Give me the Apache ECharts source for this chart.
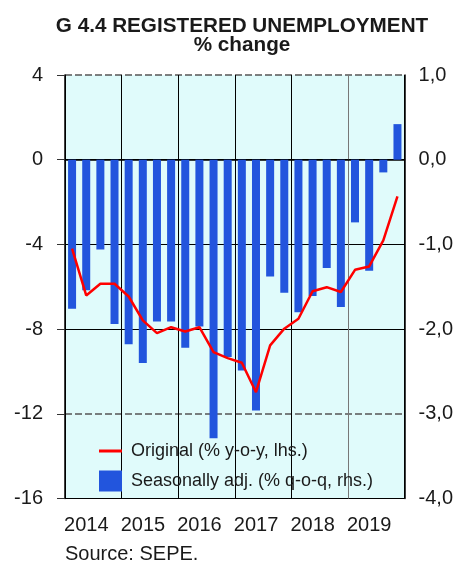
<!DOCTYPE html>
<html>
<head>
<meta charset="utf-8">
<script src="https://cdn.jsdelivr.net/npm/echarts@6/dist/echarts.min.js"></script>
<style>
  html, body { margin: 0; padding: 0; background: #fff; }
  #main { width: 456px; height: 562px; }
</style>
</head>
<body>
<div id="main"></div>
<script>
// years on the axis, one bar / point per quarter
var years = ['2014', '2015', '2016', '2017', '2018', '2019'];
var quarters = [];
years.forEach(function (y) {
  ['Q1', 'Q2', 'Q3', 'Q4'].forEach(function (q) { quarters.push(y + q); });
});

// original series, % y-o-y (left axis)
var original = [-4.20, -6.41, -5.86, -5.86, -6.46, -7.59, -8.19, -7.91,
                -8.11, -7.91, -9.09, -9.37, -9.59, -10.98, -8.77, -7.98,
                -7.51, -6.21, -6.02, -6.25, -5.20, -5.04, -3.81, -1.73];

// seasonally adjusted, % q-o-q (right axis)
var seasAdj = [-1.76, -1.54, -1.06, -1.94, -2.18, -2.40, -1.91, -1.91,
               -2.22, -1.97, -3.29, -2.33, -2.49, -2.96, -1.38, -1.57,
               -1.80, -1.61, -1.28, -1.74, -0.74, -1.31, -0.15, 0.42];

var FONT = "'Liberation Sans', Arial, sans-serif";
var TXT = '#1a1a1a';

var chart = echarts.init(document.getElementById('main'));
chart.setOption({
  animation: false,
  textStyle: { fontFamily: FONT },
  graphic: [
    {
      type: 'text', x: 242, y: 17,
      style: {
        text: 'G 4.4 REGISTERED UNEMPLOYMENT\n% change',
        font: 'bold 20.7px ' + FONT, fill: TXT,
        textAlign: 'center', lineHeight: 19
      }
    },
    {
      type: 'text', x: 65, y: 544,
      style: { text: 'Source: SEPE.', font: '20px ' + FONT, fill: TXT }
    }
  ],
  grid: {
    left: 65, right: 50, top: 75, bottom: 63.5,
    show: true, backgroundColor: '#e0fbfb', borderWidth: 0
  },
  legend: {
    orient: 'vertical',
    left: 99, top: 442, padding: 0,
    itemWidth: 23, itemHeight: 21, itemGap: 10.5,
    textStyle: { fontSize: 18, color: TXT, fontFamily: FONT, padding: [0, 0, 0, 4] },
    data: [
      { name: 'Original (% y-o-y, lhs.)', icon: 'path://M0,0 L23,0 L23,3 L0,3 Z' },
      { name: 'Seasonally adj. (% q-o-q, rhs.)', icon: 'rect' }
    ]
  },
  xAxis: [
    {
      type: 'category', data: quarters,
      axisLine: { show: true, lineStyle: { color: '#000', width: 1.5 } },
      axisTick: { show: false }, axisLabel: { show: false },
      splitLine: { show: false }
    },
    {
      type: 'category', data: years, position: 'bottom',
      axisLine: { show: false }, axisTick: { show: false },
      axisLabel: { interval: 0, fontSize: 20, color: TXT, margin: 17, padding: [0, 14, 0, 0] },
      splitLine: {
        show: true, interval: 0,
        lineStyle: { color: ['#000', '#000', '#000', '#000', '#000', '#777', '#000'], width: 1 }
      }
    }
  ],
  yAxis: [
    {
      type: 'value', min: -16, max: 4, interval: 4, position: 'left',
      axisLine: { show: true, lineStyle: { color: '#000', width: 1.5 } },
      axisTick: { show: true, length: 8, lineStyle: { color: '#333' } },
      axisLabel: { fontSize: 20, color: TXT, margin: 22 },
      splitLine: {
        show: true,
        lineStyle: { color: ['#000', 'transparent', '#000', '#000', '#000', 'transparent'], width: 1 }
      }
    },
    {
      type: 'value', min: -4, max: 1, interval: 1, position: 'right',
      axisLine: { show: true, lineStyle: { color: '#000', width: 1.5 } },
      axisTick: { show: false },
      axisLabel: {
        fontSize: 20, color: TXT, margin: 14,
        formatter: function (v) { return v.toFixed(1).replace('.', ','); }
      },
      splitLine: {
        show: true,
        lineStyle: {
          color: ['transparent', '#555', 'transparent', 'transparent', 'transparent', '#555'],
          width: 1.5, type: [7, 3]
        }
      }
    }
  ],
  series: [
    {
      name: 'Original (% y-o-y, lhs.)',
      type: 'line', xAxisIndex: 0, yAxisIndex: 0,
      data: original,
      symbol: 'none', z: 3,
      lineStyle: { color: '#ff0000', width: 2.5 },
      itemStyle: { color: '#ff0000' }
    },
    {
      name: 'Seasonally adj. (% q-o-q, rhs.)',
      type: 'bar', xAxisIndex: 0, yAxisIndex: 1,
      data: seasAdj,
      barWidth: 8,
      itemStyle: { color: '#2255dd' }
    }
  ]
});
</script>
</body>
</html>
